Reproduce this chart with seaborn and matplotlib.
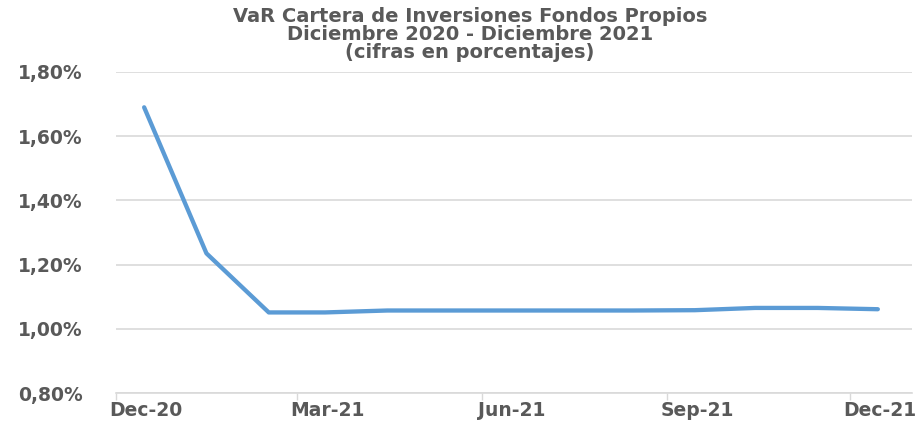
import pandas as pd
import matplotlib
matplotlib.use("Agg")
import matplotlib.pyplot as plt
import matplotlib.dates as mdates
from matplotlib.ticker import FixedLocator, FuncFormatter
import seaborn as sns

# monthly VaR values (percent), plotted mid-month
months = ["2020-12", "2021-01", "2021-02", "2021-03", "2021-04", "2021-05", "2021-06",
          "2021-07", "2021-08", "2021-09", "2021-10", "2021-11", "2021-12"]
var_pct = [1.69, 1.235, 1.051, 1.051, 1.057, 1.057, 1.057,
           1.057, 1.057, 1.058, 1.065, 1.065, 1.061]
tick_months = ["2020-12", "2021-03", "2021-06", "2021-09", "2021-12"]
tick_labels = ["Dec-20", "Mar-21", "Jun-21", "Sep-21", "Dec-21"]
y_ticks = [0.8, 1.0, 1.2, 1.4, 1.6, 1.8]

title_lines = ["VaR Cartera de Inversiones Fondos Propios",
               "Diciembre 2020 - Diciembre 2021",
               "(cifras en porcentajes)"]

df = pd.DataFrame({"fecha": pd.to_datetime([m + "-15" for m in months]), "var": var_pct})

sns.set_theme(style="white")
plt.rcParams["font.family"] = ["DejaVu Sans"]

txt = "#595959"
grid = "#D9D9D9"

fig = plt.figure(figsize=(9.23, 4.25), dpi=100)
ax = fig.add_axes([116 / 923, 1 - 393 / 425, (912 - 116) / 923, (393 - 72) / 425])

sns.lineplot(data=df, x="fecha", y="var", ax=ax, color="#5B9BD5", linewidth=3.1)

ax.set_xlim(pd.Timestamp("2020-12-01"), pd.Timestamp("2022-01-01"))
ax.set_ylim(0.8, 1.8)
ax.set_xlabel("")
ax.set_ylabel("")

# tick marks at month starts, labels centred on the month
major = [mdates.date2num(pd.Timestamp(m + "-01")) for m in tick_months]
minor = [mdates.date2num(pd.Timestamp(m + "-16")) for m in tick_months]
ax.xaxis.set_major_locator(FixedLocator(major))
ax.xaxis.set_major_formatter(FuncFormatter(lambda v, p: ""))
ax.xaxis.set_minor_locator(FixedLocator(minor))
ax.xaxis.set_minor_formatter(FuncFormatter(lambda v, p: tick_labels[p] if p is not None and p < len(tick_labels) else ""))
ax.tick_params(axis="x", which="major", length=5, width=1, color=grid, direction="out", bottom=True)
ax.tick_params(axis="x", which="minor", length=0, pad=6, labelsize=13.5, labelcolor=txt)
for lab in ax.get_xticklabels(minor=True):
    lab.set_fontweight("bold")

ax.set_yticks(y_ticks)
ax.yaxis.set_major_formatter(FuncFormatter(lambda v, p: f"{v:.2f}%".replace(".", ",")))
ax.tick_params(axis="y", length=0, pad=24, labelsize=13.5, labelcolor=txt)
for lab in ax.get_yticklabels():
    lab.set_fontweight("bold")

ax.grid(axis="y", color=grid, linewidth=1.2)
ax.grid(axis="x", visible=False)
for s in ["top", "right", "left"]:
    ax.spines[s].set_visible(False)
ax.spines["bottom"].set_color(grid)
ax.spines["bottom"].set_linewidth(1.2)

for i, t in enumerate(title_lines):
    fig.text(470 / 923, 1 - (16 + 18.5 * i) / 425, t, ha="center", va="center",
             fontsize=14, fontweight="bold", color=txt)

fig.savefig("out.png", dpi=100)
